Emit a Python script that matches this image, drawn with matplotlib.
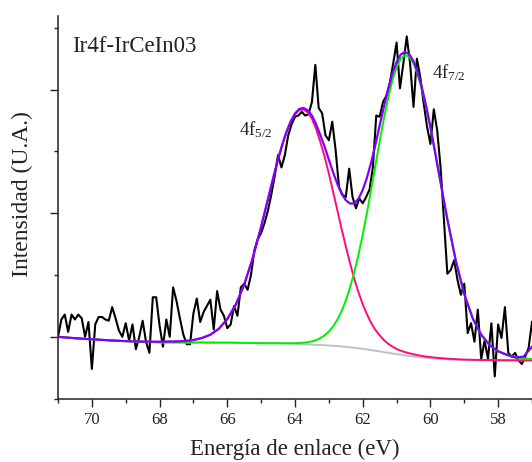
import numpy as np
import matplotlib
matplotlib.use("Agg")
import matplotlib.pyplot as plt
from matplotlib.ticker import MultipleLocator

plt.rcParams["font.family"] = ["Liberation Serif", "DejaVu Serif"]
plt.rcParams["mathtext.fontset"] = "custom"
plt.rcParams["mathtext.rm"] = "Liberation Serif"
plt.rcParams["mathtext.it"] = "Liberation Serif:italic"
plt.rcParams["mathtext.bf"] = "Liberation Serif:bold"

# Measured Ir 4f spectrum, 0.1 eV steps from 71.0 down to 57.0 eV
raw_ev = np.round(np.arange(71.0, 56.95, -0.1), 1)
raw_counts = [
    0.00, 0.14, 0.18, 0.04, 0.18, 0.14, 0.18, 0.15, 0.00, 0.12,
    -0.26, 0.10, 0.16, 0.16, 0.14, 0.13, 0.24, 0.15, 0.05, 0.00,
    0.11, -0.03, 0.10, -0.10, 0.00, 0.13, -0.04, -0.13, 0.32, 0.32,
    0.09, -0.08, 0.14, 0.00, 0.40, 0.29, 0.15, 0.02, -0.06, -0.06,
    0.19, 0.31, 0.12, 0.20, 0.25, 0.30, 0.06, 0.37, 0.22, 0.17,
    0.07, 0.10, 0.25, 0.17, 0.40, 0.43, 0.38, 0.50, 0.70, 0.79,
    0.84, 0.92, 1.02, 1.15, 1.30, 1.47, 1.37, 1.47, 1.63, 1.72,
    1.78, 1.79, 1.82, 1.79, 1.80, 1.90, 2.20, 1.85, 1.81, 1.63,
    1.59, 1.74, 1.51, 1.21, 1.15, 1.13, 1.36, 1.13, 1.04, 1.12,
    1.08, 1.13, 1.19, 1.37, 1.79, 1.78, 1.90, 1.95, 2.05, 2.21,
    2.38, 2.01, 2.21, 2.43, 2.21, 1.86, 2.25, 2.10, 1.89, 1.70,
    1.56, 1.84, 1.67, 1.37, 0.94, 0.51, 0.54, 0.62, 0.46, 0.34,
    0.43, 0.03, 0.11, -0.04, 0.22, -0.18, -0.03, -0.18, 0.11, -0.32,
    0.10, -0.01, 0.24, -0.13, -0.16, -0.13, -0.19, -0.22, -0.16, -0.09,
    0.12,
]

# Fit results: 0.25 eV steps on the flat wings, 0.125 eV across the peaks
fit_ev = np.concatenate([
    np.arange(71.0, 65.2, -0.25),
    np.arange(65.0, 59.45, -0.125),
    np.arange(59.25, 56.99, -0.25),
])
background = [
    0.000, -0.006, -0.011, -0.016, -0.020, -0.024, -0.028, -0.032,
    -0.035, -0.038, -0.041, -0.043, -0.045, -0.045, -0.046, -0.046,
    -0.046, -0.046, -0.047, -0.047, -0.047, -0.048, -0.049, -0.050,
    -0.051, -0.052, -0.052, -0.053, -0.053, -0.054, -0.055, -0.056, -0.057,
    -0.059, -0.060, -0.062, -0.063, -0.065, -0.066, -0.068, -0.070,
    -0.073, -0.075, -0.078, -0.081, -0.085, -0.088, -0.093, -0.097,
    -0.102, -0.107, -0.113, -0.118, -0.124, -0.129, -0.135, -0.140,
    -0.145, -0.150, -0.155, -0.159, -0.163, -0.167, -0.170, -0.173,
    -0.176, -0.178, -0.180, -0.182,
    -0.185, -0.187, -0.188, -0.189, -0.189, -0.190, -0.190, -0.190, -0.190, -0.190,
]
peak_4f52 = [
    0.000, -0.006, -0.011, -0.016, -0.020, -0.024, -0.028, -0.032,
    -0.035, -0.037, -0.039, -0.040, -0.040, -0.039, -0.038, -0.034,
    -0.026, -0.010, 0.017, 0.065, 0.143, 0.260, 0.422, 0.636,
    0.891, 1.029, 1.167, 1.305, 1.435, 1.554, 1.657, 1.740, 1.800,
    1.834, 1.839, 1.815, 1.764, 1.680, 1.574, 1.457, 1.320,
    1.173, 1.025, 0.874, 0.731, 0.596, 0.469, 0.360, 0.264,
    0.182, 0.112, 0.055, 0.012, -0.026, -0.056, -0.079, -0.098,
    -0.112, -0.124, -0.133, -0.141, -0.148, -0.155, -0.160, -0.164,
    -0.168, -0.171, -0.174, -0.177,
    -0.181, -0.184, -0.186, -0.187, -0.188, -0.189, -0.190, -0.190, -0.190, -0.190,
]
peak_4f72 = [
    0.000, -0.006, -0.011, -0.016, -0.020, -0.024, -0.028, -0.032,
    -0.035, -0.038, -0.041, -0.043, -0.045, -0.045, -0.046, -0.046,
    -0.046, -0.046, -0.047, -0.047, -0.047, -0.048, -0.049, -0.050,
    -0.051, -0.052, -0.052, -0.052, -0.051, -0.052, -0.052, -0.052, -0.051,
    -0.050, -0.048, -0.044, -0.037, -0.027, -0.010, 0.012, 0.043,
    0.084, 0.138, 0.207, 0.293, 0.398, 0.522, 0.665, 0.826,
    1.003, 1.192, 1.386, 1.579, 1.763, 1.929, 2.072, 2.180,
    2.251, 2.278, 2.265, 2.211, 2.122, 2.001, 1.855, 1.688,
    1.507, 1.318, 1.130, 0.946,
    0.612, 0.342, 0.147, 0.016, -0.069, -0.118, -0.145, -0.165, -0.175, -0.180,
]
envelope = [
    0.000, -0.006, -0.011, -0.016, -0.020, -0.024, -0.028, -0.032,
    -0.035, -0.037, -0.039, -0.040, -0.040, -0.039, -0.038, -0.034,
    -0.026, -0.010, 0.017, 0.065, 0.143, 0.260, 0.422, 0.636,
    0.891, 1.029, 1.167, 1.306, 1.437, 1.556, 1.660, 1.744, 1.806,
    1.843, 1.851, 1.833, 1.790, 1.718, 1.630, 1.537, 1.433,
    1.330, 1.238, 1.159, 1.105, 1.078, 1.079, 1.117, 1.187,
    1.287, 1.411, 1.553, 1.709, 1.860, 2.002, 2.127, 2.222,
    2.284, 2.304, 2.286, 2.229, 2.137, 2.013, 1.865, 1.697,
    1.514, 1.325, 1.136, 0.951,
    0.616, 0.345, 0.149, 0.018, -0.068, -0.117, -0.145, -0.168, -0.160, -0.080,
]

fig = plt.figure(figsize=(5.32, 4.62), dpi=100)
ax = fig.add_axes([58 / 532, 63 / 462, 474 / 532, 383 / 462])

ax.plot(raw_ev, raw_counts, color="black", lw=1.5, zorder=2)
ax.plot(fit_ev, background, color="#c0c0c0", lw=1.4, zorder=3)
ax.plot(fit_ev, peak_4f52, color="#ff0a7f", lw=1.4, zorder=4)
ax.plot(fit_ev, peak_4f72, color="#00f000", lw=1.4, zorder=5)
ax.plot(fit_ev, envelope, color="#7f00ff", lw=1.6, zorder=6)

ax.set_xlim(71, 57)
ax.set_ylim(-0.503, 2.595)

ax.xaxis.set_major_locator(MultipleLocator(2))
ax.xaxis.set_minor_locator(MultipleLocator(1))
ax.yaxis.set_major_locator(MultipleLocator(1))
ax.yaxis.set_minor_locator(MultipleLocator(0.5))
ax.set_yticklabels([])
ax.tick_params(axis="both", which="major", direction="out", length=5.5, width=1.0,
               labelsize=12, color="#222222", labelcolor="#222222", pad=4)
ax.tick_params(axis="both", which="minor", direction="out", length=3.2, width=1.0,
               color="#222222")

for side in ("top", "right"):
    ax.spines[side].set_visible(False)
for side in ("left", "bottom"):
    ax.spines[side].set_linewidth(1.1)
    ax.spines[side].set_color("#222222")

ax.set_xlabel("Energía de enlace (eV)", fontsize=16.5, color="#222222")
ax.set_ylabel("Intensidad (U.A.)", fontsize=17, color="#222222")
ax.xaxis.set_label_coords(0.5, -0.105)
ax.yaxis.set_label_coords(-0.052, 0.535)

ax.text(0.029, 0.907, "Ir4f-IrCeIn03", transform=ax.transAxes, fontsize=16.5,
        ha="left", va="baseline", color="#222222")
ax.text(65.66, 1.63, r"4f$_{\mathrm{5/2}}$", fontsize=13.5, ha="left",
        va="baseline", color="#222222")
ax.text(59.95, 2.09, r"4f$_{\mathrm{7/2}}$", fontsize=13.5, ha="left",
        va="baseline", color="#222222")

fig.savefig("out.png", dpi=100)
